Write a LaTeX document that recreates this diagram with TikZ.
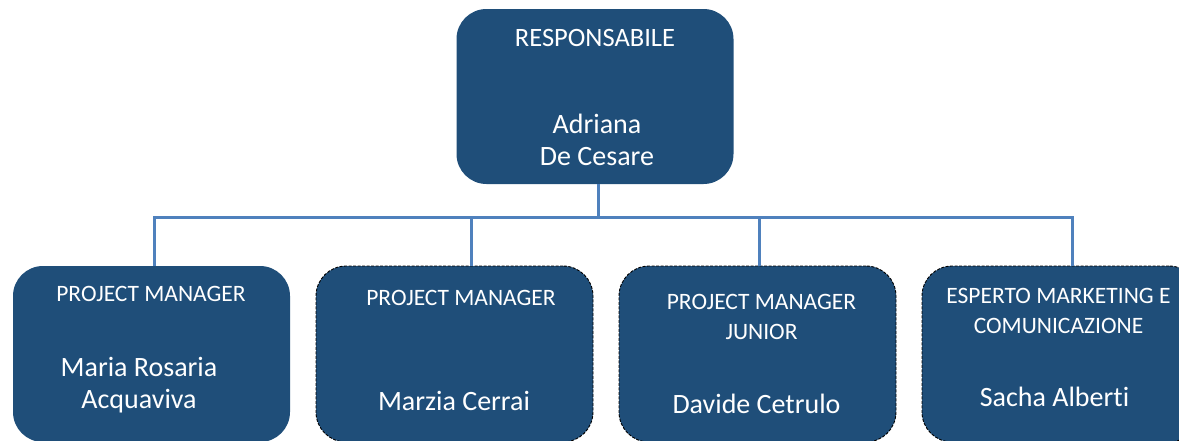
\documentclass[tikz,border=0pt]{standalone}
\usepackage{fontspec}
\setmainfont{Carlito}[Ligatures=NoCommon]
\usetikzlibrary{positioning}
\definecolor{boxblue}{HTML}{1F4E79}
\definecolor{linkblue}{HTML}{4F81BD}
\tikzstyle{orgbox} = [rectangle, rounded corners=30pt, minimum width=277pt, minimum height=176pt, inner sep=0pt, fill=boxblue]
\tikzstyle{vacant} = [draw=black, line width=0.9pt, dash pattern=on 3pt off 1.5pt]
\tikzstyle{role} = [anchor=base, inner sep=0pt, align=center, text=white, font=\fontsize{23.5}{29.5}\selectfont]
\tikzstyle{person} = [anchor=base, inner sep=0pt, align=center, text=white, font=\fontsize{28}{31.5}\selectfont]
\tikzstyle{link} = [linkblue, line width=3pt]

\begin{document}
\begin{tikzpicture}[x=1pt, y=-1pt, node distance=303pt]
		\useasboundingbox (0,0) rectangle (1179,440);
		\clip (0,0) rectangle (1179,440);
		\node (resp) [orgbox, minimum height=175pt] at (595,96.5) {};
		\node (pm1) [orgbox] at (151.5,354) {};
		\node (pm2) [orgbox, vacant, right of=pm1] {};
		\node (pmj) [orgbox, vacant, right of=pm2] {};
		\node (mkt) [orgbox, vacant, right of=pmj] {};

		\coordinate (bus) at (598,217);
		\coordinate (drop1) at (154,217);
		\coordinate (drop2) at (471,217);
		\coordinate (drop3) at (759,217);
		\coordinate (drop4) at (1072,217);

		\draw [link] (resp.south -| bus) -- (bus);
		\draw [link] (drop1 |- pm1.north) -- (drop1) -- (drop4) -- (drop4 |- mkt.north);
		\draw [link] (drop2) -- (drop2 |- pm2.north);
		\draw [link] (drop3) -- (drop3 |- pmj.north);

		\node (resprole) [role, font=\fontsize{26.5}{30}\selectfont] at (595,46) {RESPONSABILE};
		\node (respname) [person] at (597,165) {Adriana\\De Cesare};
		\node (pm1role) [role] at (151,301) {PROJECT MANAGER};
		\node (pm1name) [person] at (139,408) {Maria Rosaria\\Acquaviva};
		\node (pm2role) [role] at (461,305) {PROJECT MANAGER};
		\node (pm2name) [person] at (454,410) {Marzia Cerrai};
		\node (pmjrole) [role] at (761.5,339) {PROJECT MANAGER\\JUNIOR};
		\node (pmjname) [person] at (756.5,413) {Davide Cetrulo};
		\node (mktrole) [role] at (1058.5,333) {ESPERTO MARKETING E\\COMUNICAZIONE};
		\node (mktname) [person] at (1054.5,406) {Sacha Alberti};
	\end{tikzpicture}
\end{document}
